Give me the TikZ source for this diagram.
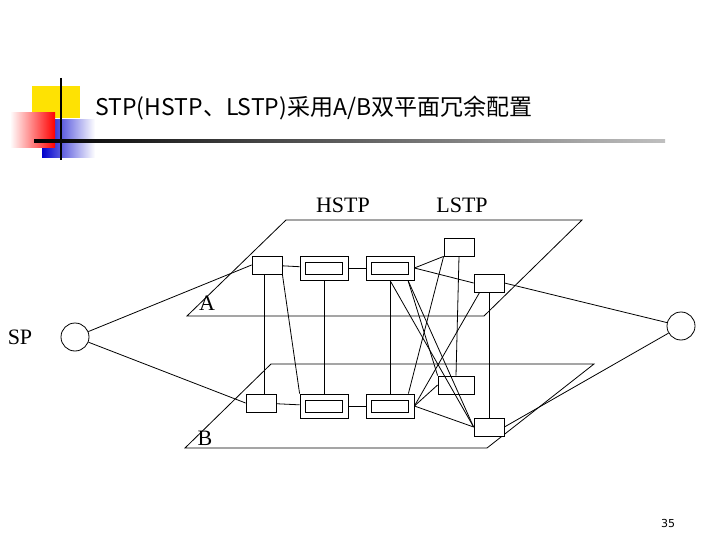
\documentclass[tikz,border=0pt]{standalone}
\usepackage{fontspec}
\setmainfont{Liberation Serif}
\newfontfamily\cjk{Noto Sans CJK SC}
\newfontfamily\tah{DejaVu Sans}
\begin{document}
\begin{tikzpicture}[x=1pt,y=-1pt,line width=0.8pt,
  bx/.style={draw,fill=white},
  lbl/.style={font=\fontsize{22}{22}\selectfont,inner sep=0}]
\useasboundingbox (0,0) rectangle (720,540);
% header decoration
\fill[yellow!85!orange] (32,86) rectangle (80,118);
\shade[left color=blue!80!black,right color=white] (42,120) rectangle (95,158);
\shade[left color=white,right color=red] (10,113) rectangle (55,148);
\draw[line width=2pt] (61,78) -- (61,160);
\shade[left color=black,right color=gray!50] (34,140) rectangle (665,142.5);
\node[anchor=west,inner sep=0,font=\cjk\fontsize{23}{23}\selectfont] (title) at (95,108) {STP(HSTP、LSTP)采用A/B双平面冗余配置};
% planes
\draw (286,220) -- (582,220) -- (484,316) -- (187,316) -- cycle;
\draw (271,364) -- (594,364) -- (487,448) -- (185,448) -- cycle;
% circles
\node[draw,circle,minimum size=28pt,inner sep=0] (L) at (75,337) {};
\node[draw,circle,minimum size=28pt,inner sep=0] (R) at (681,326) {};
% boxes
\node[bx,minimum width=30pt,minimum height=18pt,inner sep=0] (a1) at (267,265) {};
\node[bx,minimum width=48pt,minimum height=24pt,inner sep=0] (a2) at (324,268) {};
\node[bx,minimum width=48pt,minimum height=24pt,inner sep=0] (a3) at (390,268) {};
\node[bx,minimum width=30pt,minimum height=18pt,inner sep=0] (a4) at (459,247) {};
\node[bx,minimum width=30pt,minimum height=18pt,inner sep=0] (a5) at (489,283) {};
\node[bx,minimum width=30pt,minimum height=18pt,inner sep=0] (b1) at (261,403) {};
\node[bx,minimum width=48pt,minimum height=24pt,inner sep=0] (b2) at (324,406) {};
\node[bx,minimum width=48pt,minimum height=24pt,inner sep=0] (b3) at (390,406) {};
\node[bx,minimum width=36pt,minimum height=18pt,inner sep=0] (b4) at (456,385) {};
\node[bx,minimum width=30pt,minimum height=18pt,inner sep=0] (b5) at (489,427) {};
\foreach \n in {a2,a3,b2,b3} \draw (\n.center) ++(-18.5,-6) rectangle ++(37,12);
% connectors
\draw (L) -- (a1.west);
\draw (L) -- (b1.west);
\draw (R) -- (a5.east);
\draw (R) -- (b5.east);
\draw (a1) -- (a2); \draw (a2) -- (a3);
\draw (b1) -- (b2); \draw (b2) -- (b3);
\draw (a3.east) -- (a4.south west);
\draw (a3.east) -- (a5.west);
\draw (b3.east) -- (b4.west);
\draw (b3.east) -- (b5.west);
\draw ([xshift=-3pt]a1.south) -- ([xshift=-3pt]b1.north -| a1.south);
\draw (a2.south) -- (b2.north);
\draw (a3.south) -- (b3.north);
\draw (a4.south) -- (b4.north);
\draw (a5.south) -- (b5.north);
\draw (a1.south east) -- (b2.north west);
\draw ([xshift=18pt]a3.south) -- (b4.north west);
\draw ([xshift=18pt]a3.south) -- (b5.west);
\draw (a3.south) -- (b5.west);
\draw (a4.south west) -- ([xshift=-6pt]b3.north east);
\draw ([xshift=6pt]a5.south west) -- (b3.east);
% labels
\node[lbl] (hs) at (343,205) {HSTP};
\node[lbl] (ls) at (462,205) {LSTP};
\node[lbl] (la) at (207,303) {A};
\node[lbl] (lb) at (205,438) {B};
\node[lbl] (sp) at (20,337) {SP};
\node[inner sep=0,font=\tah\fontsize{11}{11}\selectfont] (pg) at (668,523) {35};
\end{tikzpicture}
\end{document}
